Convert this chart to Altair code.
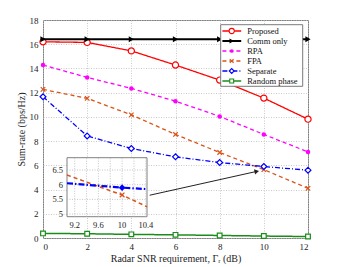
import altair as alt
import pandas as pd

# ---------------- data ----------------
snr = [0, 2, 4, 6, 8, 10, 12]
proposed = [16.2, 16.15, 15.45, 14.28, 13.04, 11.55, 9.81]
comm_only = [16.42, 16.42, 16.42, 16.42, 16.42, 16.42, 16.42]
rpa = [14.28, 13.26, 12.35, 11.3, 10.04, 8.55, 7.11]
fpa = [12.27, 11.53, 10.17, 8.55, 7.06, 5.65, 4.1]
separate = [11.66, 8.43, 7.39, 6.7, 6.23, 5.9, 5.6]
random_phase = [0.38, 0.35, 0.3, 0.26, 0.21, 0.16, 0.12]

# inset (zoom around SNR = 10 dB)
inset_x = [9.07, 10.0, 10.42]
inset_sep = [6.05, 5.90, 5.85]
inset_fpa = [6.33, 5.65, 5.25]
inset_xticks = [9.2, 9.6, 10.0, 10.4]
inset_xgrid = [9.2, 9.4, 9.6, 9.8, 10.0, 10.2, 10.4]
inset_yticks = [5.0, 5.5, 6.0, 6.5]
inset_xdom = [9.07, 10.42]
inset_ydom = [4.91, 6.92]

arrow_start = (4.83, 3.53)
arrow_end = (9.68, 5.50)

xticks = [0, 2, 4, 6, 8, 10, 12]
yticks = [0, 2, 4, 6, 8, 10, 12, 14, 16, 18]

FONT = "Liberation Serif"

series = [
    dict(name="Proposed", y=proposed, color="#ff0000", dash=[1, 0], width=1.3,
         shape="circle", filled=False, size=38),
    dict(name="Comm only", y=comm_only, color="#000000", dash=[1, 0], width=2.0,
         shape="triangle-right", filled=True, size=36),
    dict(name="RPA", y=rpa, color="#ff00ff", dash=[4, 3], width=1.3,
         shape="circle", filled=True, size=20),
    dict(name="FPA", y=fpa, color="#d95319", dash=[4, 3], width=1.3,
         shape="M-1,-1L1,1M1,-1L-1,1", filled=False, size=20),
    dict(name="Separate", y=separate, color="#0000ff", dash=[5, 2, 1, 2], width=1.3,
         shape="diamond", filled=False, size=34),
    dict(name="Random phase", y=random_phase, color="#1a8c1a", dash=[1, 0], width=1.5,
         shape="square", filled=False, size=22),
]

# ---------------- main plot ----------------
X = alt.X("x:Q", scale=alt.Scale(domain=[0, 12], nice=False, zero=False),
          axis=alt.Axis(values=xticks, title="Radar SNR requirement, Γᵣ (dB)",
                        format="d"))
Y = alt.Y("y:Q", scale=alt.Scale(domain=[0, 18], nice=False, zero=False),
          axis=alt.Axis(values=yticks, title="Sum-rate (bps/Hz)", format="d"))

main_layers = []
for s in series:
    df = pd.DataFrame({"x": snr, "y": s["y"]})
    base = alt.Chart(df)
    main_layers.append(base.mark_line(color=s["color"], strokeWidth=s["width"],
                                      strokeDash=s["dash"]).encode(x=X, y=Y))
    main_layers.append(base.mark_point(shape=s["shape"], filled=s["filled"],
                                       color=s["color"], size=s["size"],
                                       strokeWidth=1.2, opacity=1,
                                       fill=s["color"] if s["filled"] else "white")
                       .encode(x=X, y=Y))

arrow_df = pd.DataFrame({"x": [arrow_start[0]], "y": [arrow_start[1]],
                         "x2": [arrow_end[0]], "y2": [arrow_end[1]]})
main_layers.append(alt.Chart(arrow_df).mark_rule(color="#222222", strokeWidth=1)
                   .encode(x=X, y=Y, x2="x2:Q", y2="y2:Q"))
head_df = pd.DataFrame({"x": [arrow_end[0]], "y": [arrow_end[1]]})
main_layers.append(alt.Chart(head_df).mark_point(shape="triangle-right", filled=True,
                                                 color="#222222", size=28, angle=347.6,
                                                 opacity=1)
                   .encode(x=X, y=Y))
main = alt.layer(*main_layers)

# ---------------- inset ----------------
PX0, PY0 = 43.3, 20.0  # page position of plot origin
IX = alt.Scale(domain=inset_xdom, range=[67.3 - PX0, 147.3 - PX0], nice=False, zero=False)
IY = alt.Scale(domain=inset_ydom, range=[216.7 - PY0, 157.7 - PY0], nice=False, zero=False)

box_df = pd.DataFrame({"x": [inset_xdom[0]], "x2": [inset_xdom[1]],
                       "y": [inset_ydom[0]], "y2": [inset_ydom[1]]})
inset_layers = [
    alt.Chart(box_df).mark_rect(fill="white", stroke="#808080", strokeWidth=1)
    .encode(x=alt.X("x:Q", scale=IX, axis=None), x2="x2:Q",
            y=alt.Y("y:Q", scale=IY, axis=None), y2="y2:Q"),
]
vg = pd.DataFrame({"x": inset_xgrid, "y": inset_ydom[0], "y2": inset_ydom[1]})
inset_layers.append(alt.Chart(vg).mark_rule(color="#b5b5b5", strokeWidth=0.8,
                                            strokeDash=[1, 1.5])
                    .encode(x=alt.X("x:Q", scale=IX, axis=None),
                            y=alt.Y("y:Q", scale=IY, axis=None), y2="y2:Q"))
hg = pd.DataFrame({"y": inset_yticks, "x": inset_xdom[0], "x2": inset_xdom[1]})
inset_layers.append(alt.Chart(hg).mark_rule(color="#b5b5b5", strokeWidth=0.8,
                                            strokeDash=[1, 1.5])
                    .encode(x=alt.X("x:Q", scale=IX, axis=None), x2="x2:Q",
                            y=alt.Y("y:Q", scale=IY, axis=None)))
ixl = pd.DataFrame({"x": inset_xticks, "y": inset_ydom[0],
                    "t": [f"{v:g}" for v in inset_xticks]})
inset_layers.append(alt.Chart(ixl).mark_text(font=FONT, fontSize=8.5, baseline="top",
                                             dy=4, color="#222")
                    .encode(x=alt.X("x:Q", scale=IX, axis=None),
                            y=alt.Y("y:Q", scale=IY, axis=None), text="t:N"))
iyl = pd.DataFrame({"y": inset_yticks, "x": inset_xdom[0],
                    "t": [f"{v:g}" for v in inset_yticks]})
inset_layers.append(alt.Chart(iyl).mark_text(font=FONT, fontSize=8.5, align="right",
                                             baseline="middle", dx=-4, color="#222")
                    .encode(x=alt.X("x:Q", scale=IX, axis=None),
                            y=alt.Y("y:Q", scale=IY, axis=None), text="t:N"))
for vals, col, dash, w, shp, filled, sz in [
    (inset_fpa, "#d95319", [4, 3], 1.5, "M-1,-1L1,1M1,-1L-1,1", False, 22),
    (inset_sep, "#0000ff", [6, 2, 1.5, 2], 2.2, "diamond", True, 45),
]:
    dfi = pd.DataFrame({"x": inset_x, "y": vals})
    inset_layers.append(alt.Chart(dfi).mark_line(color=col, strokeWidth=w, strokeDash=dash)
                        .encode(x=alt.X("x:Q", scale=IX, axis=None),
                                y=alt.Y("y:Q", scale=IY, axis=None)))
    dfm = pd.DataFrame({"x": [inset_x[1]], "y": [vals[1]]})
    inset_layers.append(alt.Chart(dfm).mark_point(shape=shp, filled=filled, color=col,
                                                  size=sz, strokeWidth=1.3, opacity=1)
                        .encode(x=alt.X("x:Q", scale=IX, axis=None),
                                y=alt.Y("y:Q", scale=IY, axis=None)))
inset = alt.layer(*inset_layers)

# ---------------- legend (drawn like the MATLAB legend box) ----------------
one = pd.DataFrame({"a": [0]})
leg_layers = [
    alt.Chart(one).mark_rect(fill="white", stroke="#7a7a7a", strokeWidth=1)
    .encode(x=alt.value(221 - PX0), x2=alt.value(303 - PX0),
            y=alt.value(24.7 - PY0), y2=alt.value(86.3 - PY0))
]
row_y = [31.0, 41.0, 51.0, 61.0, 71.0, 81.0]
for s, ry in zip(series, row_y):
    vy = ry - PY0
    leg_layers.append(alt.Chart(one).mark_rule(color=s["color"], strokeWidth=s["width"],
                                               strokeDash=s["dash"])
                      .encode(x=alt.value(222.7 - PX0), x2=alt.value(241.5 - PX0),
                              y=alt.value(vy)))
    leg_layers.append(alt.Chart(one).mark_point(shape=s["shape"], filled=s["filled"],
                                                color=s["color"], size=s["size"] * 0.7,
                                                strokeWidth=1.1, opacity=1,
                                                fill=s["color"] if s["filled"] else "white")
                      .encode(x=alt.value(232 - PX0), y=alt.value(vy)))
    leg_layers.append(alt.Chart(pd.DataFrame({"t": [s["name"]]}))
                      .mark_text(font=FONT, fontSize=8.5, align="left",
                                 baseline="middle", color="#111")
                      .encode(x=alt.value(247.5 - PX0), y=alt.value(vy), text="t:N"))
legend = alt.layer(*leg_layers)

chart = (
    alt.layer(main, inset, legend)
    .resolve_scale(x="independent", y="independent")
    .properties(width=265, height=218, autosize="none",
                padding={"left": 35, "top": 12, "right": 23, "bottom": 30})
    .configure_view(stroke="#808080", strokeWidth=1)
    .configure_axis(labelFont=FONT, titleFont=FONT, labelFontSize=9,
                    titleFontSize=10, titleFontWeight="normal", labelColor="#222",
                    titleColor="#222", ticks=False, domain=False,
                    grid=True, gridColor="#bdbdbd", gridDash=[1, 1.5], gridWidth=0.8)
    .configure_axisX(labelPadding=4, titlePadding=2)
    .configure_axisY(labelPadding=5, titlePadding=3)
)

chart.save("out.html", embed_options={"renderer": "svg", "actions": False})
